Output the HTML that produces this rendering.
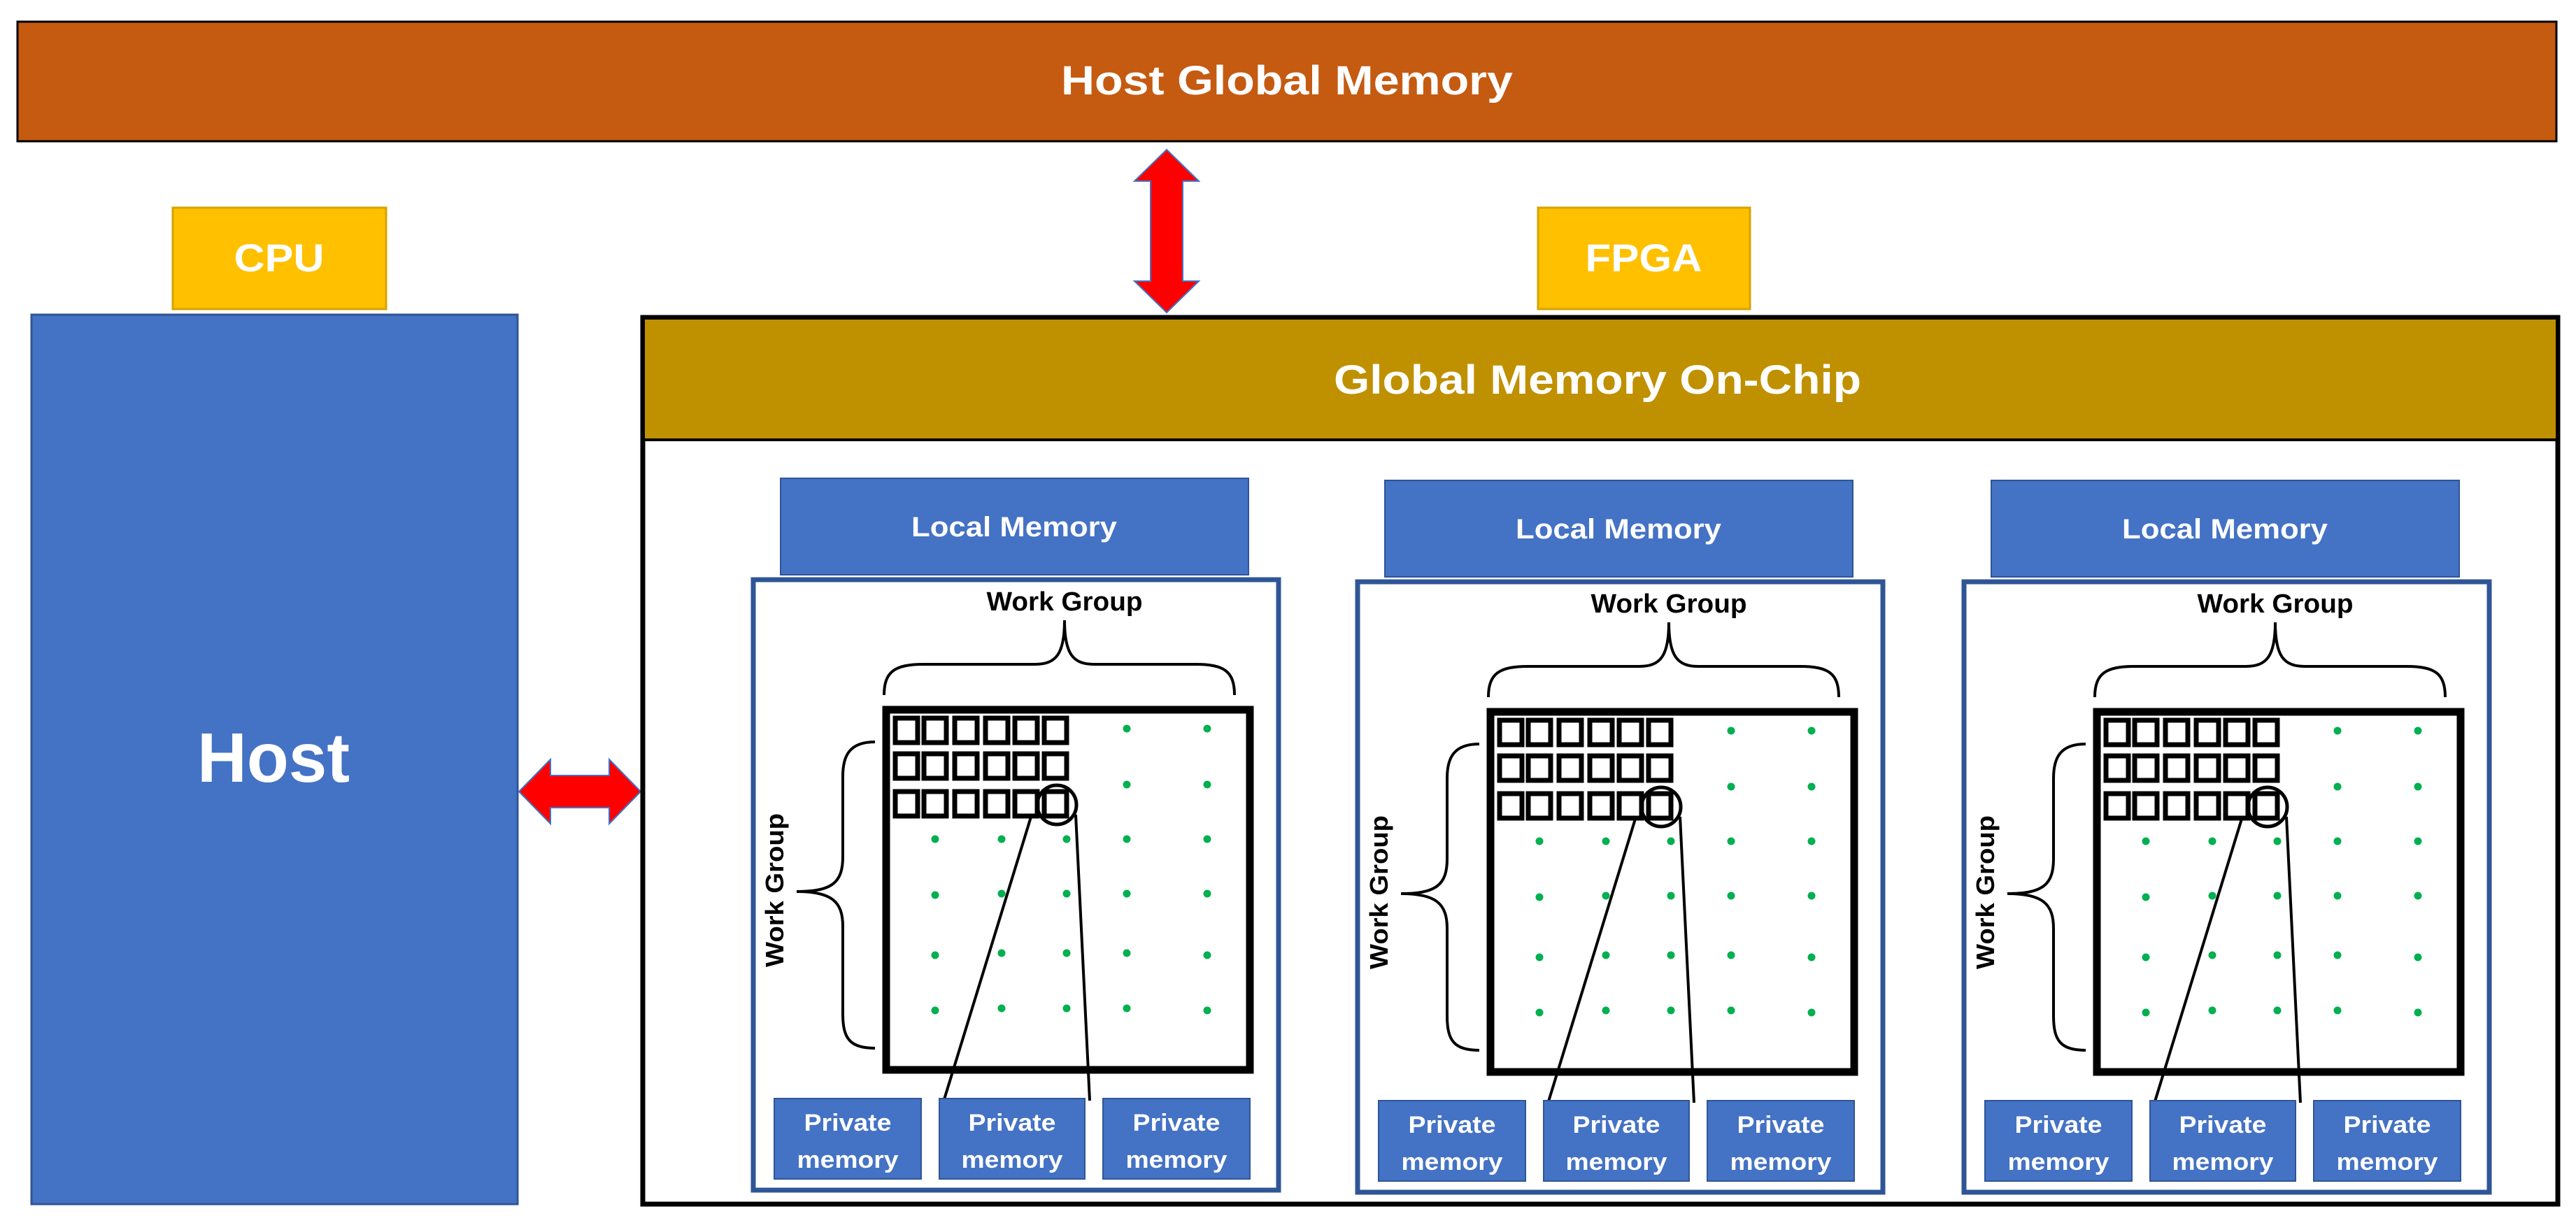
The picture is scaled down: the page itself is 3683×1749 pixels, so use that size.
<!DOCTYPE html>
<html><head><meta charset="utf-8"><style>html,body{margin:0;padding:0;background:#fff}svg{display:block}text{font-family:"Liberation Sans",sans-serif;font-weight:bold}</style></head><body>
<svg width="3683" height="1749" viewBox="0 0 3683 1749" xmlns="http://www.w3.org/2000/svg">
<rect x="0" y="0" width="3683" height="1749" fill="#fff"/>
<!-- Host Global Memory -->
<rect x="25" y="31" width="3630" height="171" fill="#C55A11" stroke="#000" stroke-width="3"/>
<text x="1840" y="135" font-size="58" fill="#fff" text-anchor="middle" textLength="646" lengthAdjust="spacingAndGlyphs">Host Global Memory</text>
<!-- CPU -->
<rect x="247" y="297" width="305" height="145" fill="#FFC000" stroke="#D6A300" stroke-width="3"/>
<text x="399" y="388" font-size="56" fill="#fff" text-anchor="middle" textLength="129" lengthAdjust="spacingAndGlyphs">CPU</text>
<!-- Host -->
<rect x="45" y="450" width="695" height="1272" fill="#4472C4" stroke="#2F5597" stroke-width="3"/>
<text x="391" y="1118" font-size="100" fill="#fff" text-anchor="middle" textLength="218" lengthAdjust="spacingAndGlyphs">Host</text>
<!-- FPGA label -->
<rect x="2199" y="297" width="303" height="145" fill="#FFC000" stroke="#D6A300" stroke-width="3"/>
<text x="2350" y="388" font-size="56" fill="#fff" text-anchor="middle" textLength="167" lengthAdjust="spacingAndGlyphs">FPGA</text>
<!-- vertical arrow -->
<polygon points="1668,214 1714,259 1691,259 1691,402 1714,402 1668,447 1622,402 1645,402 1645,259 1622,259" fill="#FF0000" stroke="#4472C4" stroke-width="2"/>
<!-- horizontal arrow -->
<polygon points="742,1132 787,1086 787,1109 871,1109 871,1086 916,1132 871,1178 871,1155 787,1155 787,1178" fill="#FF0000" stroke="#4472C4" stroke-width="2"/>
<!-- FPGA outer -->
<rect x="919" y="454" width="2738" height="1268" fill="#fff" stroke="#000" stroke-width="7"/>
<rect x="922" y="457" width="2732" height="172" fill="#BF9000"/>
<line x1="922" y1="629" x2="3654" y2="629" stroke="#000" stroke-width="4"/>
<text x="2284" y="563" font-size="58" fill="#fff" text-anchor="middle" textLength="754" lengthAdjust="spacingAndGlyphs">Global Memory On-Chip</text>

<g id="p1">
<rect x="1116" y="684" width="669" height="138" fill="#4472C4" stroke="#2F5597" stroke-width="2"/>
<text x="1450" y="767" font-size="40" fill="#fff" text-anchor="middle" textLength="294" lengthAdjust="spacingAndGlyphs">Local Memory</text>
<rect x="1077" y="829" width="751" height="873" fill="#fff" stroke="#2F5597" stroke-width="7"/>
<text x="1522" y="873" font-size="38" fill="#000" text-anchor="middle" textLength="223" lengthAdjust="spacingAndGlyphs">Work Group</text>
<path d="M1264,994 C1264,960 1280,950 1320,950 L1480,950 C1510,950 1522,935 1522,887 C1522,935 1534,950 1564,950 L1710,950 C1750,950 1765,960 1765,994" fill="none" stroke="#000" stroke-width="4"/>
<rect x="1267" y="1015" width="520" height="515" fill="none" stroke="#000" stroke-width="11"/>
<g fill="none" stroke="#000" stroke-width="7">
<rect x="1280" y="1027" width="32" height="35"/><rect x="1321" y="1027" width="32" height="35"/><rect x="1365" y="1027" width="32" height="35"/><rect x="1409" y="1027" width="32" height="35"/><rect x="1451" y="1027" width="32" height="35"/><rect x="1493" y="1027" width="32" height="35"/>
<rect x="1280" y="1078" width="32" height="35"/><rect x="1321" y="1078" width="32" height="35"/><rect x="1365" y="1078" width="32" height="35"/><rect x="1409" y="1078" width="32" height="35"/><rect x="1451" y="1078" width="32" height="35"/><rect x="1493" y="1078" width="32" height="35"/>
<rect x="1280" y="1132" width="32" height="35"/><rect x="1321" y="1132" width="32" height="35"/><rect x="1365" y="1132" width="32" height="35"/><rect x="1409" y="1132" width="32" height="35"/><rect x="1451" y="1132" width="32" height="35"/><rect x="1493" y="1132" width="32" height="35"/>
</g>
<circle cx="1511" cy="1151" r="28" fill="none" stroke="#000" stroke-width="5"/>
<line x1="1475" y1="1165" x2="1350" y2="1572" stroke="#000" stroke-width="4"/>
<line x1="1538" y1="1165" x2="1558" y2="1574" stroke="#000" stroke-width="4"/>
<g fill="#00B050">
<circle cx="1611" cy="1042" r="5.5"/><circle cx="1726" cy="1042" r="5.5"/>
<circle cx="1611" cy="1122" r="5.5"/><circle cx="1726" cy="1122" r="5.5"/>
<circle cx="1337" cy="1200" r="5.5"/><circle cx="1432" cy="1200" r="5.5"/><circle cx="1525" cy="1200" r="5.5"/><circle cx="1611" cy="1200" r="5.5"/><circle cx="1726" cy="1200" r="5.5"/>
<circle cx="1337" cy="1280" r="5.5"/><circle cx="1432" cy="1278" r="5.5"/><circle cx="1525" cy="1278" r="5.5"/><circle cx="1611" cy="1278" r="5.5"/><circle cx="1726" cy="1278" r="5.5"/>
<circle cx="1337" cy="1366" r="5.5"/><circle cx="1432" cy="1363" r="5.5"/><circle cx="1525" cy="1363" r="5.5"/><circle cx="1611" cy="1363" r="5.5"/><circle cx="1726" cy="1366" r="5.5"/>
<circle cx="1337" cy="1445" r="5.5"/><circle cx="1432" cy="1442" r="5.5"/><circle cx="1525" cy="1442" r="5.5"/><circle cx="1611" cy="1442" r="5.5"/><circle cx="1726" cy="1445" r="5.5"/>
</g>
<path d="M1251,1061 C1215,1061 1205,1080 1205,1110 L1205,1225 C1205,1262 1190,1275 1139,1275 M1139,1275 C1190,1275 1205,1290 1205,1325 L1205,1450 C1205,1485 1215,1499 1251,1499" fill="none" stroke="#000" stroke-width="4"/>
<text x="0" y="0" font-size="36" fill="#000" text-anchor="middle" textLength="220" lengthAdjust="spacingAndGlyphs" transform="translate(1120,1273) rotate(-90)">Work Group</text>
<g fill="#4472C4" stroke="#2F5597" stroke-width="2">
<rect x="1107" y="1571" width="210" height="115"/><rect x="1343" y="1571" width="208" height="115"/><rect x="1577" y="1571" width="210" height="115"/>
</g>
<g font-size="34" fill="#fff" text-anchor="middle">
<text x="1212" y="1617" textLength="125" lengthAdjust="spacingAndGlyphs">Private</text><text x="1212" y="1670" textLength="145" lengthAdjust="spacingAndGlyphs">memory</text>
<text x="1447" y="1617" textLength="125" lengthAdjust="spacingAndGlyphs">Private</text><text x="1447" y="1670" textLength="145" lengthAdjust="spacingAndGlyphs">memory</text>
<text x="1682" y="1617" textLength="125" lengthAdjust="spacingAndGlyphs">Private</text><text x="1682" y="1670" textLength="145" lengthAdjust="spacingAndGlyphs">memory</text>
</g>
</g>

<g transform="translate(864,3)">
<rect x="1116" y="684" width="669" height="138" fill="#4472C4" stroke="#2F5597" stroke-width="2"/>
<text x="1450" y="767" font-size="40" fill="#fff" text-anchor="middle" textLength="294" lengthAdjust="spacingAndGlyphs">Local Memory</text>
<rect x="1077" y="829" width="751" height="873" fill="#fff" stroke="#2F5597" stroke-width="7"/>
<text x="1522" y="873" font-size="38" fill="#000" text-anchor="middle" textLength="223" lengthAdjust="spacingAndGlyphs">Work Group</text>
<path d="M1264,994 C1264,960 1280,950 1320,950 L1480,950 C1510,950 1522,935 1522,887 C1522,935 1534,950 1564,950 L1710,950 C1750,950 1765,960 1765,994" fill="none" stroke="#000" stroke-width="4"/>
<rect x="1267" y="1015" width="520" height="515" fill="none" stroke="#000" stroke-width="11"/>
<g fill="none" stroke="#000" stroke-width="7">
<rect x="1280" y="1027" width="32" height="35"/><rect x="1321" y="1027" width="32" height="35"/><rect x="1365" y="1027" width="32" height="35"/><rect x="1409" y="1027" width="32" height="35"/><rect x="1451" y="1027" width="32" height="35"/><rect x="1493" y="1027" width="32" height="35"/>
<rect x="1280" y="1078" width="32" height="35"/><rect x="1321" y="1078" width="32" height="35"/><rect x="1365" y="1078" width="32" height="35"/><rect x="1409" y="1078" width="32" height="35"/><rect x="1451" y="1078" width="32" height="35"/><rect x="1493" y="1078" width="32" height="35"/>
<rect x="1280" y="1132" width="32" height="35"/><rect x="1321" y="1132" width="32" height="35"/><rect x="1365" y="1132" width="32" height="35"/><rect x="1409" y="1132" width="32" height="35"/><rect x="1451" y="1132" width="32" height="35"/><rect x="1493" y="1132" width="32" height="35"/>
</g>
<circle cx="1511" cy="1151" r="28" fill="none" stroke="#000" stroke-width="5"/>
<line x1="1475" y1="1165" x2="1350" y2="1572" stroke="#000" stroke-width="4"/>
<line x1="1538" y1="1165" x2="1558" y2="1574" stroke="#000" stroke-width="4"/>
<g fill="#00B050">
<circle cx="1611" cy="1042" r="5.5"/><circle cx="1726" cy="1042" r="5.5"/>
<circle cx="1611" cy="1122" r="5.5"/><circle cx="1726" cy="1122" r="5.5"/>
<circle cx="1337" cy="1200" r="5.5"/><circle cx="1432" cy="1200" r="5.5"/><circle cx="1525" cy="1200" r="5.5"/><circle cx="1611" cy="1200" r="5.5"/><circle cx="1726" cy="1200" r="5.5"/>
<circle cx="1337" cy="1280" r="5.5"/><circle cx="1432" cy="1278" r="5.5"/><circle cx="1525" cy="1278" r="5.5"/><circle cx="1611" cy="1278" r="5.5"/><circle cx="1726" cy="1278" r="5.5"/>
<circle cx="1337" cy="1366" r="5.5"/><circle cx="1432" cy="1363" r="5.5"/><circle cx="1525" cy="1363" r="5.5"/><circle cx="1611" cy="1363" r="5.5"/><circle cx="1726" cy="1366" r="5.5"/>
<circle cx="1337" cy="1445" r="5.5"/><circle cx="1432" cy="1442" r="5.5"/><circle cx="1525" cy="1442" r="5.5"/><circle cx="1611" cy="1442" r="5.5"/><circle cx="1726" cy="1445" r="5.5"/>
</g>
<path d="M1251,1061 C1215,1061 1205,1080 1205,1110 L1205,1225 C1205,1262 1190,1275 1139,1275 M1139,1275 C1190,1275 1205,1290 1205,1325 L1205,1450 C1205,1485 1215,1499 1251,1499" fill="none" stroke="#000" stroke-width="4"/>
<text x="0" y="0" font-size="36" fill="#000" text-anchor="middle" textLength="220" lengthAdjust="spacingAndGlyphs" transform="translate(1120,1273) rotate(-90)">Work Group</text>
<g fill="#4472C4" stroke="#2F5597" stroke-width="2">
<rect x="1107" y="1571" width="210" height="115"/><rect x="1343" y="1571" width="208" height="115"/><rect x="1577" y="1571" width="210" height="115"/>
</g>
<g font-size="34" fill="#fff" text-anchor="middle">
<text x="1212" y="1617" textLength="125" lengthAdjust="spacingAndGlyphs">Private</text><text x="1212" y="1670" textLength="145" lengthAdjust="spacingAndGlyphs">memory</text>
<text x="1447" y="1617" textLength="125" lengthAdjust="spacingAndGlyphs">Private</text><text x="1447" y="1670" textLength="145" lengthAdjust="spacingAndGlyphs">memory</text>
<text x="1682" y="1617" textLength="125" lengthAdjust="spacingAndGlyphs">Private</text><text x="1682" y="1670" textLength="145" lengthAdjust="spacingAndGlyphs">memory</text>
</g>
</g>

<g transform="translate(1731,3)">
<rect x="1116" y="684" width="669" height="138" fill="#4472C4" stroke="#2F5597" stroke-width="2"/>
<text x="1450" y="767" font-size="40" fill="#fff" text-anchor="middle" textLength="294" lengthAdjust="spacingAndGlyphs">Local Memory</text>
<rect x="1077" y="829" width="751" height="873" fill="#fff" stroke="#2F5597" stroke-width="7"/>
<text x="1522" y="873" font-size="38" fill="#000" text-anchor="middle" textLength="223" lengthAdjust="spacingAndGlyphs">Work Group</text>
<path d="M1264,994 C1264,960 1280,950 1320,950 L1480,950 C1510,950 1522,935 1522,887 C1522,935 1534,950 1564,950 L1710,950 C1750,950 1765,960 1765,994" fill="none" stroke="#000" stroke-width="4"/>
<rect x="1267" y="1015" width="520" height="515" fill="none" stroke="#000" stroke-width="11"/>
<g fill="none" stroke="#000" stroke-width="7">
<rect x="1280" y="1027" width="32" height="35"/><rect x="1321" y="1027" width="32" height="35"/><rect x="1365" y="1027" width="32" height="35"/><rect x="1409" y="1027" width="32" height="35"/><rect x="1451" y="1027" width="32" height="35"/><rect x="1493" y="1027" width="32" height="35"/>
<rect x="1280" y="1078" width="32" height="35"/><rect x="1321" y="1078" width="32" height="35"/><rect x="1365" y="1078" width="32" height="35"/><rect x="1409" y="1078" width="32" height="35"/><rect x="1451" y="1078" width="32" height="35"/><rect x="1493" y="1078" width="32" height="35"/>
<rect x="1280" y="1132" width="32" height="35"/><rect x="1321" y="1132" width="32" height="35"/><rect x="1365" y="1132" width="32" height="35"/><rect x="1409" y="1132" width="32" height="35"/><rect x="1451" y="1132" width="32" height="35"/><rect x="1493" y="1132" width="32" height="35"/>
</g>
<circle cx="1511" cy="1151" r="28" fill="none" stroke="#000" stroke-width="5"/>
<line x1="1475" y1="1165" x2="1350" y2="1572" stroke="#000" stroke-width="4"/>
<line x1="1538" y1="1165" x2="1558" y2="1574" stroke="#000" stroke-width="4"/>
<g fill="#00B050">
<circle cx="1611" cy="1042" r="5.5"/><circle cx="1726" cy="1042" r="5.5"/>
<circle cx="1611" cy="1122" r="5.5"/><circle cx="1726" cy="1122" r="5.5"/>
<circle cx="1337" cy="1200" r="5.5"/><circle cx="1432" cy="1200" r="5.5"/><circle cx="1525" cy="1200" r="5.5"/><circle cx="1611" cy="1200" r="5.5"/><circle cx="1726" cy="1200" r="5.5"/>
<circle cx="1337" cy="1280" r="5.5"/><circle cx="1432" cy="1278" r="5.5"/><circle cx="1525" cy="1278" r="5.5"/><circle cx="1611" cy="1278" r="5.5"/><circle cx="1726" cy="1278" r="5.5"/>
<circle cx="1337" cy="1366" r="5.5"/><circle cx="1432" cy="1363" r="5.5"/><circle cx="1525" cy="1363" r="5.5"/><circle cx="1611" cy="1363" r="5.5"/><circle cx="1726" cy="1366" r="5.5"/>
<circle cx="1337" cy="1445" r="5.5"/><circle cx="1432" cy="1442" r="5.5"/><circle cx="1525" cy="1442" r="5.5"/><circle cx="1611" cy="1442" r="5.5"/><circle cx="1726" cy="1445" r="5.5"/>
</g>
<path d="M1251,1061 C1215,1061 1205,1080 1205,1110 L1205,1225 C1205,1262 1190,1275 1139,1275 M1139,1275 C1190,1275 1205,1290 1205,1325 L1205,1450 C1205,1485 1215,1499 1251,1499" fill="none" stroke="#000" stroke-width="4"/>
<text x="0" y="0" font-size="36" fill="#000" text-anchor="middle" textLength="220" lengthAdjust="spacingAndGlyphs" transform="translate(1120,1273) rotate(-90)">Work Group</text>
<g fill="#4472C4" stroke="#2F5597" stroke-width="2">
<rect x="1107" y="1571" width="210" height="115"/><rect x="1343" y="1571" width="208" height="115"/><rect x="1577" y="1571" width="210" height="115"/>
</g>
<g font-size="34" fill="#fff" text-anchor="middle">
<text x="1212" y="1617" textLength="125" lengthAdjust="spacingAndGlyphs">Private</text><text x="1212" y="1670" textLength="145" lengthAdjust="spacingAndGlyphs">memory</text>
<text x="1447" y="1617" textLength="125" lengthAdjust="spacingAndGlyphs">Private</text><text x="1447" y="1670" textLength="145" lengthAdjust="spacingAndGlyphs">memory</text>
<text x="1682" y="1617" textLength="125" lengthAdjust="spacingAndGlyphs">Private</text><text x="1682" y="1670" textLength="145" lengthAdjust="spacingAndGlyphs">memory</text>
</g>
</g>
</svg>
</body></html>
